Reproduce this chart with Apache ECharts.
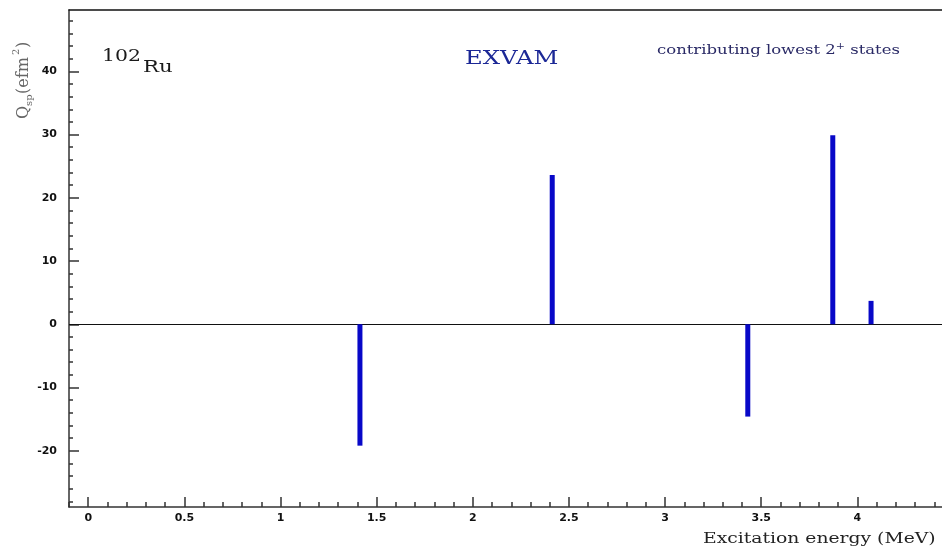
<!DOCTYPE html>
<html>
<head>
<meta charset="utf-8">
<script src="https://cdn.jsdelivr.net/npm/echarts@6/dist/echarts.min.js"></script>
<style>
  html, body { margin: 0; padding: 0; background: #fff; }
  #chart { width: 942px; height: 551px; }
</style>
</head>
<body>
<div id="chart"></div>
<script>
// Excitation energies (MeV) of the contributing lowest 2+ states
const energies = [1.413, 2.413, 3.43, 3.872, 4.071];
// Spectroscopic quadrupole moments Q_sp (e fm^2)
const qValues = [-19.2, 23.6, -14.6, 29.9, 3.7];

// Tick positions
const yMajorTicks = [-20, -10, 0, 10, 20, 30, 40];
const yMinorTicks = [-28, -26, -24, -22, -18, -16, -14, -12, -8, -6, -4, -2,
  2, 4, 6, 8, 12, 14, 16, 18, 22, 24, 26, 28, 32, 34, 36, 38, 42, 44, 46, 48];
const xMajorTicks = [0, 0.5, 1, 1.5, 2, 2.5, 3, 3.5, 4];
const xMinorTicks = [-0.1, 0.1, 0.2, 0.3, 0.4, 0.6, 0.7, 0.8, 0.9, 1.1, 1.2, 1.3, 1.4,
  1.6, 1.7, 1.8, 1.9, 2.1, 2.2, 2.3, 2.4, 2.6, 2.7, 2.8, 2.9, 3.1, 3.2, 3.3, 3.4,
  3.6, 3.7, 3.8, 3.9, 4.1, 4.2, 4.3, 4.4];

const X_MIN = -0.1, X_MAX = 4.44;
const Y_MIN = -28.9, Y_MAX = 49.7;

const tickFont = { fontFamily: 'DejaVu Sans', fontWeight: 'bold', fontSize: 11, color: '#111' };
const serif = 'DejaVu Serif';
const axisColor = '#333';

const chart = echarts.init(document.getElementById('chart'), null, { renderer: 'canvas' });

chart.setOption({
  animation: false,
  backgroundColor: '#fff',
  grid: { left: 69, right: 0, top: 10, bottom: 44, containLabel: false },
  xAxis: [
    {
      type: 'value', position: 'bottom', min: X_MIN, max: X_MAX,
      axisLine: { show: true, onZero: false, lineStyle: { color: axisColor, width: 1.5 } },
      axisTick: { show: true, inside: true, length: 10, customValues: xMajorTicks, lineStyle: { color: axisColor, width: 1.5 } },
      axisLabel: { show: true, customValues: xMajorTicks, margin: 6, ...tickFont,
        formatter: v => String(v) },
      splitLine: { show: false }
    },
    {
      type: 'value', position: 'bottom', min: X_MIN, max: X_MAX,
      axisLine: { show: false, onZero: false },
      axisTick: { show: true, inside: true, length: 5, customValues: xMinorTicks, lineStyle: { color: axisColor, width: 1.5 } },
      axisLabel: { show: false, customValues: xMinorTicks },
      splitLine: { show: false }
    },
    {
      type: 'value', position: 'top', min: X_MIN, max: X_MAX,
      axisLine: { show: true, onZero: false, lineStyle: { color: '#111', width: 1.5 } },
      axisTick: { show: false }, axisLabel: { show: false }, splitLine: { show: false }
    }
  ],
  yAxis: [
    {
      type: 'value', position: 'left', min: Y_MIN, max: Y_MAX,
      axisLine: { show: true, onZero: false, lineStyle: { color: axisColor, width: 1.5 } },
      axisTick: { show: true, inside: true, length: 10, customValues: yMajorTicks, lineStyle: { color: axisColor, width: 1.5 } },
      axisLabel: { show: true, customValues: yMajorTicks, margin: 12, ...tickFont },
      splitLine: { show: false }
    },
    {
      type: 'value', position: 'left', min: Y_MIN, max: Y_MAX,
      axisLine: { show: false, onZero: false },
      axisTick: { show: true, inside: true, length: 4, customValues: yMinorTicks, lineStyle: { color: axisColor, width: 1.5 } },
      axisLabel: { show: false, customValues: yMinorTicks },
      splitLine: { show: false }
    }
  ],
  series: [
    {
      type: 'bar',
      xAxisIndex: 0, yAxisIndex: 0,
      barWidth: 5,
      itemStyle: { color: '#0808c8' },
      data: energies.map((e, i) => [e, qValues[i]]),
      z: 3,
      markLine: {
        silent: true,
        symbol: ['none', 'none'],
        label: { show: false },
        lineStyle: { color: '#111', width: 1.2, type: 'solid' },
        data: [{ yAxis: 0 }],
        z: 2
      }
    }
  ],
  graphic: [
    // nucleus label
    { type: 'text', x: 102, y: 48, scaleX: 1.2, style: { text: '102', font: '17px "' + serif + '"', fill: '#1a1a1a' } },
    { type: 'text', x: 143, y: 59, scaleX: 1.25, style: { text: 'Ru', font: '17px "' + serif + '"', fill: '#1a1a1a' } },
    // model label
    { type: 'text', x: 465, y: 50, scaleX: 1.35, style: { text: 'EXVAM', font: '18px "' + serif + '"', fill: '#1c2896' } },
    // subtitle with superscript
    {
      type: 'text', x: 657, y: 42, scaleX: 1.22,
      style: {
        text: '{a|contributing lowest 2}{s|+}{a| states}',
        rich: {
          a: { fontFamily: serif, fontSize: 13.5, fill: '#2a2a66', verticalAlign: 'bottom' },
          s: { fontFamily: serif, fontSize: 9, fill: '#2a2a66', verticalAlign: 'top', padding: [0, 0, 6, 0] }
        }
      }
    },
    // y-axis title, rotated
    {
      type: 'group', x: 31, y: 119, rotation: Math.PI / 2,
      children: [
        { type: 'text', x: 0, y: -15, style: { text: 'Q', font: '16px "' + serif + '"', fill: '#666' } },
        { type: 'text', x: 13, y: -7, style: { text: 'sp', font: '10px "' + serif + '"', fill: '#666' } },
        { type: 'text', x: 25, y: -15, style: { text: '(efm', font: '16px "' + serif + '"', fill: '#666' } },
        { type: 'text', x: 64, y: -20, style: { text: '2', font: '10px "' + serif + '"', fill: '#666' } },
        { type: 'text', x: 71, y: -15, style: { text: ')', font: '16px "' + serif + '"', fill: '#666' } }
      ]
    },
    // x-axis title
    { type: 'text', x: 703, y: 532, scaleX: 1.25, style: { text: 'Excitation energy (MeV)', font: '15px "' + serif + '"', fill: '#222' } }
  ]
});
</script>
</body>
</html>
